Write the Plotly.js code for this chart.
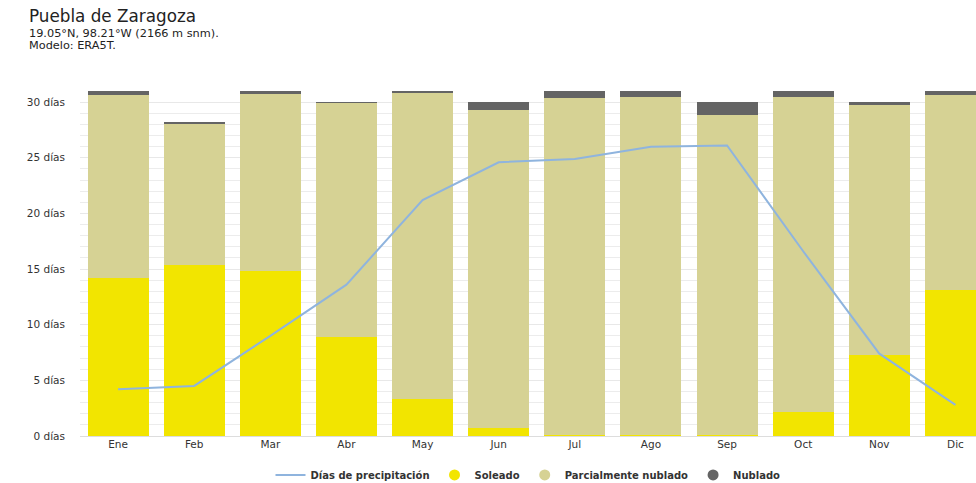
<!DOCTYPE html>
<html>
<head>
<meta charset="utf-8">
<script src="https://cdn.plot.ly/plotly-3.0.1.min.js"></script>
<style>html,body{margin:0;padding:0;background:#fff;}#chart{width:976px;height:483px;}</style>
</head>
<body>
<div id="chart"></div>
<script>
var months = ["Ene","Feb","Mar","Abr","May","Jun","Jul","Ago","Sep","Oct","Nov","Dic"];
var soleado = [14.2, 15.4, 14.8, 8.9, 3.3, 0.7, 0.1, 0.1, 0.1, 2.2, 7.3, 13.1];
var parcial = [16.4, 12.6, 15.9, 21.0, 27.5, 28.6, 30.3, 30.4, 28.7, 28.3, 22.4, 17.5];
var nublado = [0.4, 0.2, 0.3, 0.1, 0.2, 0.7, 0.6, 0.5, 1.2, 0.5, 0.3, 0.4];
var precipitacion = [4.2, 4.5, 9.0, 13.6, 21.2, 24.6, 24.9, 26.0, 26.1, 16.6, 7.4, 2.8];
var yTickVals = [0, 5, 10, 15, 20, 25, 30];
var yTickText = ["0 días","5 días","10 días","15 días","20 días","25 días","30 días"];

var cSol = "#f2e500", cPar = "#d6d294", cNub = "#646464", cLine = "#8fb4de";
var font = "DejaVu Sans, Verdana, sans-serif";

var traces = [
  {type:"bar", x:months, y:soleado, marker:{color:cSol}, showlegend:false, hoverinfo:"skip"},
  {type:"bar", x:months, y:parcial, marker:{color:cPar}, showlegend:false, hoverinfo:"skip"},
  {type:"bar", x:months, y:nublado, marker:{color:cNub}, showlegend:false, hoverinfo:"skip"},
  {type:"scatter", mode:"lines", x:months, y:precipitacion, name:"Días de precipitación",
   line:{color:cLine, width:2}, showlegend:true},
  {type:"scatter", mode:"markers", x:[null], y:[null], name:"Soleado", marker:{color:cSol, size:11, symbol:"circle"}},
  {type:"scatter", mode:"markers", x:[null], y:[null], name:"Parcialmente nublado", marker:{color:cPar, size:11, symbol:"circle"}},
  {type:"scatter", mode:"markers", x:[null], y:[null], name:"Nublado", marker:{color:cNub, size:11, symbol:"circle"}}
];

var titleX = (27 - 80) / 896;

var layout = {
  width:976, height:483,
  margin:{l:80, r:0, t:91, b:47, autoexpand:false},
  paper_bgcolor:"#fff", plot_bgcolor:"#fff",
  barmode:"stack", bargap:0.2,
  font:{family:font, size:11, color:"#333"},
  xaxis:{type:"category", range:[-0.5, 11.27], showgrid:false, zeroline:false, showline:false,
         ticks:"", tickfont:{size:10.5, color:"#333"}, fixedrange:true},
  yaxis:{range:[0,31], tickmode:"array", tickvals:yTickVals, ticktext:yTickText,
         showgrid:true, gridcolor:"#e8e8e8", gridwidth:1, zeroline:true, zerolinecolor:"#dddddd",
         ticks:"", ticklabelstandoff:14, tickfont:{size:10.5, color:"#333"},
         minor:{dtick:1, showgrid:true, gridcolor:"#ececec", gridwidth:1}, fixedrange:true},
  showlegend:true,
  legend:{orientation:"h", x:0.5, xanchor:"center", y:-0.113, yanchor:"middle",
          font:{size:10, color:"#333", family:"DejaVu Sans, sans-serif", weight:"bold"},
          traceorder:"normal", itemwidth:30},
  annotations:[
    {text:"Puebla de Zaragoza", xref:"paper", yref:"paper", x:titleX, y:1.0, xanchor:"left", yanchor:"middle",
     showarrow:false, font:{size:16.8, color:"#222", family:font}, yshift:75},
    {text:"19.05°N, 98.21°W (2166 m snm).", xref:"paper", yref:"paper", x:titleX, y:1.0,
     xanchor:"left", yanchor:"middle", showarrow:false, font:{size:11.3, color:"#222", family:font}, yshift:58},
    {text:"Modelo: ERA5T.", xref:"paper", yref:"paper", x:titleX, y:1.0,
     xanchor:"left", yanchor:"middle", showarrow:false, font:{size:11.3, color:"#222", family:font}, yshift:46}
  ]
};

Plotly.newPlot("chart", traces, layout, {displayModeBar:false, staticPlot:true});
</script>
</body>
</html>
